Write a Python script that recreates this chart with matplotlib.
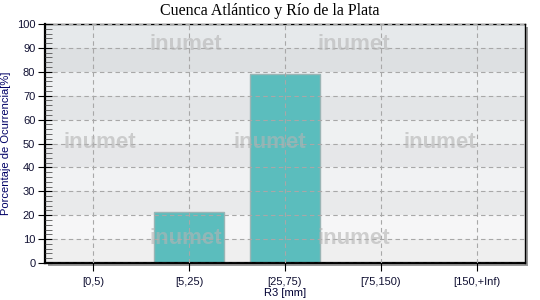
import matplotlib.pyplot as plt
from matplotlib.patches import Rectangle

categories = ["[0,5)", "[5,25)", "[25,75)", "[75,150)", "[150,+Inf)"]
percentages = [0, 21.5, 79, 0, 0]

title = "Cuenca Atlántico y Río de la Plata"
x_label = "R3 [mm]"
y_label = "Porcentaje de Ocurrencia[%]"

# background bands, top (90-100) to bottom (0-10)
band_colors = ["#e6e9eb", "#dde0e2", "#eef0f2", "#e3e5e7", "#eff1f2",
               "#e6e7e9", "#f1f2f3", "#e9eaeb", "#f6f6f7", "#efefef"]

# watermark positions in pixels (x, y from top)
marks = [(186, 45), (354, 45), (100, 142), (270, 142), (440, 142), (186, 238), (354, 238)]

W, H = 540, 300
fig = plt.figure(figsize=(W / 100, H / 100), dpi=100)
ax_l, ax_r, ax_t, ax_b = 45, 525, 24, 263
ax = fig.add_axes([ax_l / W, 1 - ax_b / H, (ax_r - ax_l) / W, (ax_b - ax_t) / H])

# drop shadow
fig.patches.append(Rectangle(((ax_l + 3) / W, 1 - (ax_b + 3) / H), (ax_r - ax_l) / W, (ax_b - ax_t) / H,
                             transform=fig.transFigure, facecolor="#9a9a9a", edgecolor="none", zorder=-1))

for i, c in enumerate(band_colors):
    top = 100 - i * 10
    ax.axhspan(top - 10, top, color=c, zorder=0, lw=0)

x = range(len(categories))
ax.bar(x, percentages, width=0.73, color="#5bbdbd", edgecolor="#9ab5b5", linewidth=1, zorder=1)

ax.set_xlim(-0.5, len(categories) - 0.5)
ax.set_ylim(0, 100)
ax.set_yticks(range(0, 101, 10))
ax.set_yticks(range(0, 101, 2), minor=True)
ax.set_xticks(list(x))
ax.set_xticklabels(categories)
ax.grid(True, which="major", color="#a8a8a8", linestyle=(0, (4, 3)), linewidth=0.8, zorder=2)
ax.set_axisbelow(False)
ax.tick_params(axis="y", which="major", direction="inout", length=10, labelsize=8, pad=2)
ax.tick_params(axis="y", which="minor", direction="in", length=5, color="#555555")
ax.tick_params(axis="x", which="major", direction="out", length=6, labelsize=8, pad=4)
for t in ax.get_xticklabels() + ax.get_yticklabels():
    t.set_family("Liberation Sans")
    t.set_color("#111133")

for s in ["left", "bottom"]:
    ax.spines[s].set_linewidth(1.6)
for s in ["top", "right"]:
    ax.spines[s].set_linewidth(1.0)

ax.set_xlabel(x_label, fontsize=8, family="Liberation Sans", color="#000033", labelpad=1)
ax.set_ylabel(y_label, fontsize=8, family="Liberation Sans", color="#000066", labelpad=4)
fig.text(0.5, 1 - 11 / H, title, ha="center", va="center", fontsize=11.5, family="Liberation Serif")

for px, py in marks:
    fig.text(px / W, 1 - py / H, "inumet", ha="center", va="center", fontsize=16, fontweight="bold",
             family="Liberation Sans", color="#b4b4b4", alpha=0.6, zorder=5)

fig.savefig("out.png", dpi=100)
